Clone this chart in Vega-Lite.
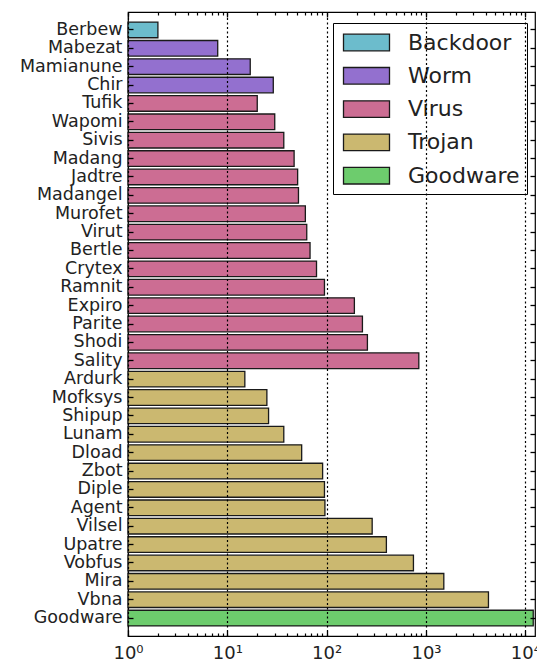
{
  "$schema": "https://vega.github.io/schema/vega-lite/v6.json",
  "width": 407,
  "height": 624,
  "autosize": "none",
  "padding": {"left": 128, "top": 12, "right": 2, "bottom": 26},
  "background": "white",
  "config": {
    "view": {"stroke": "black", "strokeWidth": 1.2},
    "font": "DejaVu Sans"
  },
  "data": {
    "values": [
      {"name": "Berbew", "count": 2, "type": "Backdoor"},
      {"name": "Mabezat", "count": 8, "type": "Worm"},
      {"name": "Mamianune", "count": 17, "type": "Worm"},
      {"name": "Chir", "count": 29, "type": "Worm"},
      {"name": "Tufik", "count": 20, "type": "Virus"},
      {"name": "Wapomi", "count": 30, "type": "Virus"},
      {"name": "Sivis", "count": 37, "type": "Virus"},
      {"name": "Madang", "count": 47, "type": "Virus"},
      {"name": "Jadtre", "count": 51, "type": "Virus"},
      {"name": "Madangel", "count": 52, "type": "Virus"},
      {"name": "Murofet", "count": 61, "type": "Virus"},
      {"name": "Virut", "count": 63, "type": "Virus"},
      {"name": "Bertle", "count": 68, "type": "Virus"},
      {"name": "Crytex", "count": 79, "type": "Virus"},
      {"name": "Ramnit", "count": 95, "type": "Virus"},
      {"name": "Expiro", "count": 190, "type": "Virus"},
      {"name": "Parite", "count": 229, "type": "Virus"},
      {"name": "Shodi", "count": 257, "type": "Virus"},
      {"name": "Sality", "count": 846, "type": "Virus"},
      {"name": "Ardurk", "count": 15, "type": "Trojan"},
      {"name": "Mofksys", "count": 25, "type": "Trojan"},
      {"name": "Shipup", "count": 26, "type": "Trojan"},
      {"name": "Lunam", "count": 37, "type": "Trojan"},
      {"name": "Dload", "count": 56, "type": "Trojan"},
      {"name": "Zbot", "count": 91, "type": "Trojan"},
      {"name": "Diple", "count": 95, "type": "Trojan"},
      {"name": "Agent", "count": 96, "type": "Trojan"},
      {"name": "Vilsel", "count": 287, "type": "Trojan"},
      {"name": "Upatre", "count": 399, "type": "Trojan"},
      {"name": "Vobfus", "count": 747, "type": "Trojan"},
      {"name": "Mira", "count": 1510, "type": "Trojan"},
      {"name": "Vbna", "count": 4250, "type": "Trojan"},
      {"name": "Goodware", "count": 12000, "type": "Goodware"}
    ]
  },
  "layer": [
    {
      "mark": {"type": "bar", "stroke": "#1a1a1a", "strokeWidth": 1.3},
      "encoding": {
        "y": {
          "field": "name", "type": "nominal", "sort": null,
          "scale": {"paddingInner": 0.15, "paddingOuter": 0.55},
          "axis": {
            "title": null, "orient": "left", "domain": false, "zindex": 1, "offset": -5,
            "tickSize": 5, "tickColor": "black", "tickWidth": 1.3,
            "labelPadding": 6, "labelFontSize": 17.5, "labelColor": "#222",
            "labelFont": "DejaVu Sans", "labelLimit": 200
          }
        },
        "x": {
          "field": "count", "type": "quantitative", "stack": null,
          "scale": {"type": "log", "domain": [1, 12500], "nice": false},
          "axis": {
            "title": null, "orient": "bottom", "domain": false, "zindex": 1, "offset": -5,
            "values": [1, 10, 100, 1000, 10000],
            "grid": true, "gridColor": "black", "gridWidth": 1.2, "gridDash": [2, 2.5],
            "tickColor": "black", "tickWidth": 1.3, "tickSize": 5,
            "labelExpr": "'10' + ['⁰','¹','²','³','⁴'][round(log(datum.value)/LN10)]",
            "labelPadding": 8, "labelFontSize": 18, "labelColor": "#222",
            "labelFont": "DejaVu Sans", "labelOverlap": false, "labelFlush": false
          }
        },
        "x2": {"datum": 1},
        "color": {
          "field": "type", "type": "nominal",
          "scale": {
            "domain": ["Backdoor", "Worm", "Virus", "Trojan", "Goodware"],
            "range": ["#6cbccc", "#9370cf", "#cc6d93", "#cbb870", "#6dcc6d"]
          },
          "legend": {
            "title": null, "orient": "none", "legendX": 205, "legendY": 11,
            "symbolType": "M-2,-0.72L2,-0.72L2,0.72L-2,0.72Z",
            "symbolSize": 529, "symbolStrokeColor": "#1a1a1a", "symbolStrokeWidth": 1.3,
            "symbolOpacity": 1, "symbolOffset": 14,
            "labelFontSize": 22, "labelFont": "DejaVu Sans", "labelColor": "#222",
            "labelOffset": 29, "strokeColor": "black", "fillColor": "white",
            "padding": 7, "rowPadding": 9.3
          }
        }
      }
    },
    {
      "mark": {"type": "bar", "opacity": 0},
      "encoding": {
        "y": {
          "field": "name", "type": "nominal", "sort": null,
          "axis": {
            "title": null, "orient": "right", "domain": false, "labels": false, "zindex": 1, "offset": -5,
            "tickSize": 5, "tickColor": "black", "tickWidth": 1.3
          }
        },
        "x": {
          "field": "count", "type": "quantitative", "stack": null,
          "axis": {
            "title": null, "orient": "top", "domain": false, "labels": false, "grid": false, "zindex": 1, "offset": -5,
            "values": [1, 10, 100, 1000, 10000],
            "tickColor": "black", "tickWidth": 1.3, "tickSize": 5
          }
        },
        "x2": {"datum": 1}
      }
    },
    {
      "mark": {"type": "bar", "opacity": 0},
      "encoding": {
        "y": {"field": "name", "type": "nominal", "sort": null, "axis": null},
        "x": {
          "field": "count", "type": "quantitative", "stack": null,
          "axis": {
            "title": null, "orient": "bottom", "domain": false, "labels": false, "grid": false, "zindex": 1, "offset": -3,
            "values": [2,3,4,5,6,7,8,9,20,30,40,50,60,70,80,90,200,300,400,500,600,700,800,900,2000,3000,4000,5000,6000,7000,8000,9000],
            "tickColor": "black", "tickWidth": 1.2, "tickSize": 3
          }
        },
        "x2": {"datum": 1}
      }
    },
    {
      "mark": {"type": "bar", "opacity": 0},
      "encoding": {
        "y": {"field": "name", "type": "nominal", "sort": null, "axis": null},
        "x": {
          "field": "count", "type": "quantitative", "stack": null,
          "axis": {
            "title": null, "orient": "top", "domain": false, "labels": false, "grid": false, "zindex": 1, "offset": -3,
            "values": [2,3,4,5,6,7,8,9,20,30,40,50,60,70,80,90,200,300,400,500,600,700,800,900,2000,3000,4000,5000,6000,7000,8000,9000],
            "tickColor": "black", "tickWidth": 1.2, "tickSize": 3
          }
        },
        "x2": {"datum": 1}
      }
    }
  ],
  "resolve": {"axis": {"x": "independent", "y": "independent"}}
}
